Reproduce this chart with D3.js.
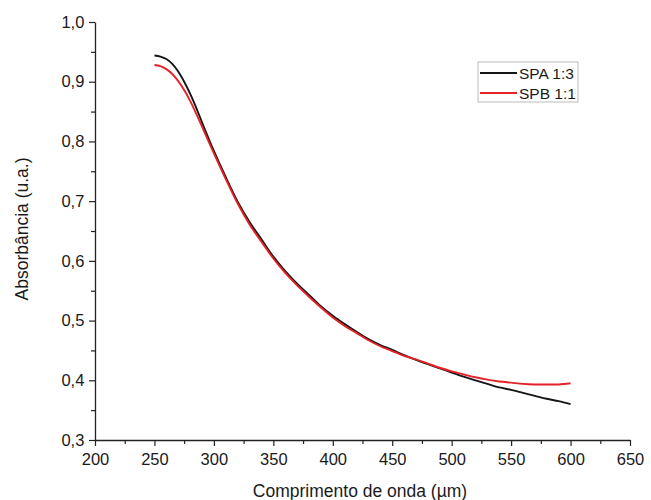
<!DOCTYPE html>
<html><head><meta charset="utf-8">
<script src="https://cdn.jsdelivr.net/npm/d3@7"></script>
<style>body{margin:0;background:#fff}svg{display:block}text{font-family:"Liberation Sans",Arial,sans-serif}</style>
</head><body>
<svg id="c" width="651" height="500"></svg>
<script>
const wavelengths = [250,255,260,265,270,275,280,285,290,300,310,320,330,340,350,360,370,380,390,400,410,420,430,440,450,460,470,480,490,500,510,520,530,540,550,560,570,580,590,600];
const spaValues = [0.944,0.942,0.938,0.930,0.917,0.900,0.880,0.857,0.832,0.784,0.740,0.699,0.665,0.636,0.607,0.583,0.562,0.543,0.524,0.508,0.494,0.481,0.469,0.459,0.451,0.442,0.434,0.427,0.420,0.413,0.406,0.400,0.394,0.388,0.384,0.379,0.374,0.369,0.365,0.360];
const spbValues = [0.928,0.926,0.921,0.913,0.901,0.886,0.868,0.847,0.825,0.780,0.737,0.696,0.661,0.632,0.604,0.580,0.559,0.540,0.522,0.505,0.491,0.479,0.467,0.457,0.449,0.441,0.435,0.428,0.421,0.415,0.410,0.405,0.401,0.398,0.396,0.394,0.393,0.393,0.393,0.395];
const seriesNames = ["SPA 1:3","SPB 1:1"];
const seriesColors = ["#151515","#e42228"];
const xTicks = [200,250,300,350,400,450,500,550,600,650];
const yTicks = [0.3,0.4,0.5,0.6,0.7,0.8,0.9,1.0];
const xLabel = "Comprimento de onda (µm)";
const yLabel = "Absorbância (u.a.)";

const svg = d3.select("#c");
const x = d3.scaleLinear().domain([200,650]).range([95,630]);
const y = d3.scaleLinear().domain([0.3,1.0]).range([440,22]);
const fmt = v => d3.format(".1f")(v).replace(".", ",");

const xMinor = d3.range(225,650,50);
const yMinor = d3.range(0.35,1.0,0.1);

const gx = svg.append("g").attr("transform","translate(0,440)");
gx.call(d3.axisBottom(x).tickValues(xTicks).tickFormat(d3.format("d")).tickSize(6).tickSizeOuter(0));
gx.append("g").call(d3.axisBottom(x).tickValues(xMinor).tickFormat("").tickSize(4).tickSizeOuter(0)).select(".domain").remove();
const gy = svg.append("g").attr("transform","translate(95,0)");
gy.call(d3.axisLeft(y).tickValues(yTicks).tickFormat(fmt).tickSize(6).tickSizeOuter(0));
gy.append("g").call(d3.axisLeft(y).tickValues(yMinor).tickFormat("").tickSize(4).tickSizeOuter(0)).select(".domain").remove();

svg.selectAll(".domain").attr("stroke","#222").attr("stroke-width",1.3);
svg.selectAll(".tick line").attr("stroke","#222").attr("stroke-width",1.2);
gx.selectAll(".tick text").attr("font-size",16.5).attr("fill","#1a1a1a").attr("dy","0.95em");
gy.selectAll(".tick text").attr("font-size",16.5).attr("fill","#1a1a1a").attr("dx","-0.1em");

svg.append("text").attr("x",360).attr("y",497).attr("text-anchor","middle").attr("font-size",17.5).attr("fill","#1a1a1a").text(xLabel);
svg.append("text").attr("transform","translate(28,229) rotate(-90)").attr("text-anchor","middle").attr("font-size",17.5).attr("fill","#1a1a1a").text(yLabel);

const line = d3.line().x(d=>x(d[0])).y(d=>y(d[1])).curve(d3.curveCatmullRom);
const series = [spaValues, spbValues];
series.forEach((vals,i)=>{
  svg.append("path").datum(wavelengths.map((w,j)=>[w,vals[j]]))
    .attr("d",line).attr("fill","none").attr("stroke",seriesColors[i]).attr("stroke-width",1.9);
});
const lg = svg.append("g");
lg.append("rect").attr("x",478).attr("y",62).attr("width",100).attr("height",40).attr("fill","#fff").attr("stroke","#bbb").attr("stroke-width",1);
seriesNames.forEach((n,i)=>{
  const yy = 73 + i*20;
  lg.append("line").attr("x1",480).attr("x2",517).attr("y1",yy).attr("y2",yy).attr("stroke",seriesColors[i]).attr("stroke-width",1.9);
  lg.append("text").attr("x",519).attr("y",yy+5.5).attr("font-size",15.5).attr("fill","#1a1a1a").text(n);
});
</script>
</body></html>
